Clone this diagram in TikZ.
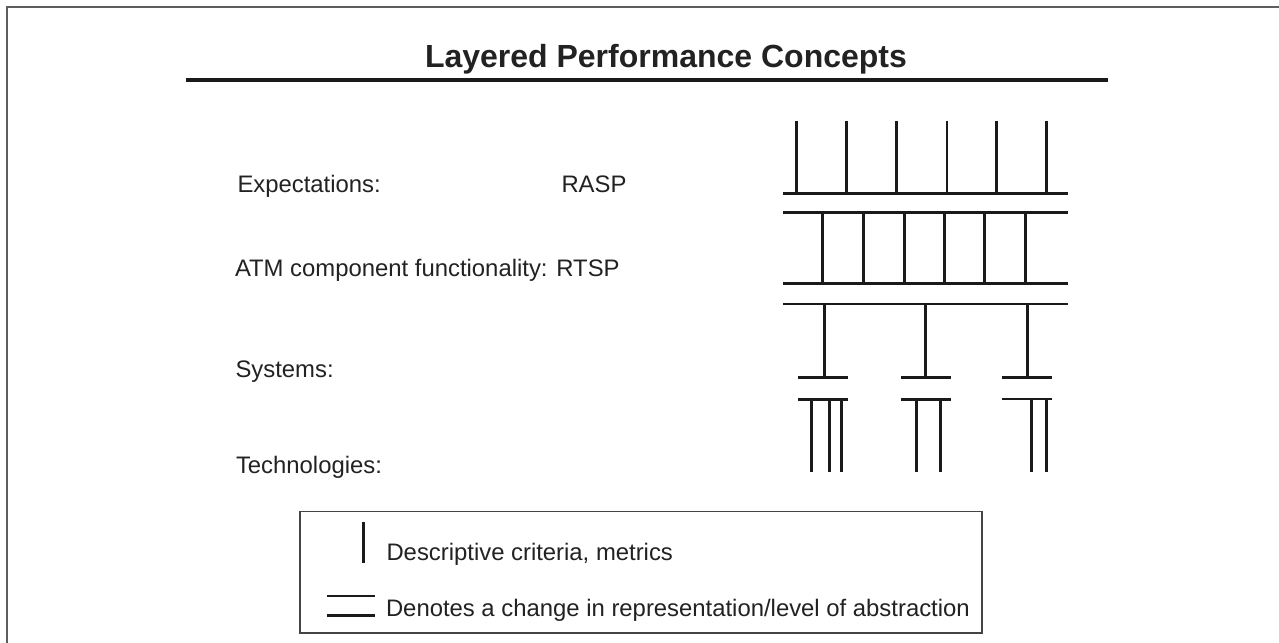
\documentclass[tikz,border=0pt]{standalone}
\usepackage{fontspec}
\setmainfont{Liberation Sans}
\definecolor{ink}{HTML}{1A1A1A}
\definecolor{txt}{HTML}{222222}
\definecolor{framegray}{HTML}{5E5E5E}
\definecolor{boxgray}{HTML}{444444}
\begin{document}
\begin{tikzpicture}[x=0.75pt,y=-0.75pt,
  lbl/.style={anchor=base west, inner sep=0pt, outer sep=0pt, text=txt, font=\fontsize{17.9}{20}\selectfont},
  ttl/.style={anchor=base west, inner sep=0pt, outer sep=0pt, text=txt, font=\bfseries\fontsize{24}{28}\selectfont},
  bar/.style={line width=2.1pt, draw=ink, line cap=butt},
  thinbar/.style={line width=1.6pt, draw=ink, line cap=butt},
  rule/.style={line width=2.6pt, draw=ink},
  frameline/.style={line width=1.5pt, draw=framegray},
  legendbox/.style={line width=1pt, draw=boxgray}]
\useasboundingbox (0,0) rectangle (1279,643);
\fill[white] (0,0) rectangle (1279,643);
% outer frame (continues beyond the picture)
\begin{scope}
\clip (0,0) rectangle (1279,643);
\draw[frameline] (7.3,700) -- (7.3,7) -- (1320,7);
\end{scope}
% title
\node[ttl] (title) at (425,67.3) {Layered Performance Concepts};
\coordinate (ruleL) at (186,80);
\coordinate (ruleR) at (1108,80);
\draw[rule] (ruleL) -- (ruleR);
% labels
\node[lbl] (expect) at (237.5,192.3) {Expectations:};
\node[lbl] (rasp) at (561.5,192.3) {RASP};
\node[lbl] (atm) at (235,276.7) {ATM component functionality: RTSP};
\node[lbl] (sys) at (235.5,377.3) {Systems:};
\node[lbl] (tech) at (236,473.3) {Technologies:};
% layered diagram: long horizontal lines
\foreach \y/\n in {193.3/h1,212.3/h2,283.7/h3,304/h4}{
  \coordinate (\n L) at (783,\y);
  \coordinate (\n R) at (1067.5,\y);
  \draw[bar] (\n L) -- (\n R);
}
% expectations verticals
\foreach \x in {796.3,846.7,896.3,947,996.3,1046.3}
  \draw[bar] (\x,121) -- (\x,193.3);
% component verticals
\foreach \x in {822.7,863.3,904.3,944.3,984.3,1025.7}
  \draw[bar] (\x,212.3) -- (\x,283.7);
% systems verticals
\foreach \x in {824.3,925.7,1027.3}
  \draw[bar] (\x,304) -- (\x,377.3);
% short double lines
\foreach \a/\b in {798/848,901/951,1002/1052}
  \draw[bar] (\a,377.3) -- (\b,377.3);
\draw[bar] (798,399.7) -- (848,399.7);
\draw[bar] (901,399.7) -- (951,399.7);
\draw[thinbar] (1002,399.2) -- (1052,399.2);
% technology verticals
\foreach \x in {811.3,829.3,841.3,916.3,940.3,1031.3,1046.3}
  \draw[bar] (\x,399.7) -- (\x,472);
% legend
\node[legendbox, draw, inner sep=0pt, minimum width=682pt*0.75, minimum height=121.3pt*0.75, anchor=north west] (legend) at (299.3,511) {};
\coordinate (lbarT) at (363.3,522.3);
\coordinate (lbarB) at (363.3,563.3);
\draw[bar] (lbarT) -- (lbarB);
\node[lbl] (desc) at (386.5,560) {Descriptive criteria, metrics};
\coordinate (ld1L) at (327,596);
\coordinate (ld1R) at (374.7,596);
\coordinate (ld2L) at (327,615.3);
\coordinate (ld2R) at (374.7,615.3);
\draw[bar] (ld1L) -- (ld1R);
\draw[bar] (ld2L) -- (ld2R);
\node[lbl] (denote) at (386,616.5) {Denotes a change in representation/level of abstraction};
\end{tikzpicture}
\end{document}
